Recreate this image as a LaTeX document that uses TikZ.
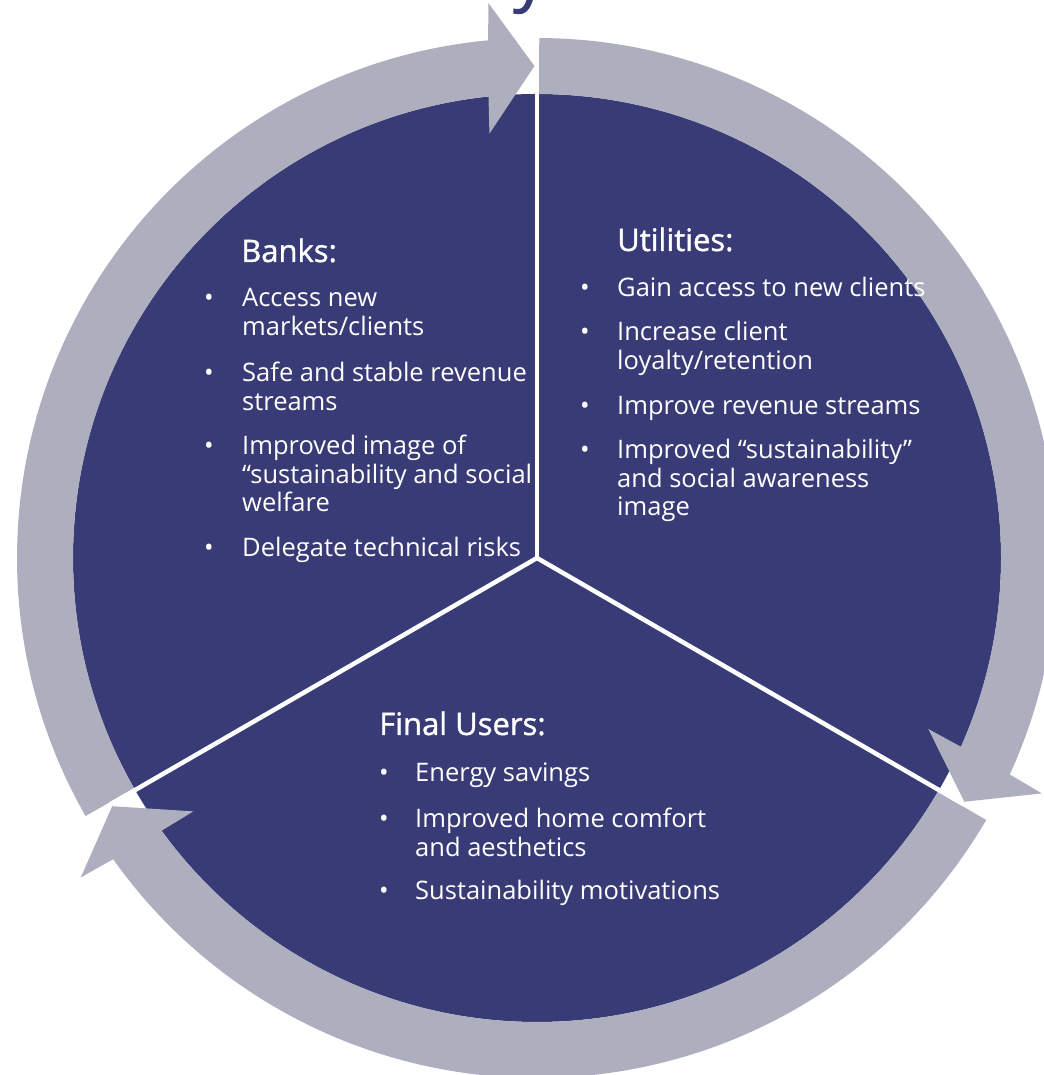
\documentclass[tikz,border=0pt]{standalone}
\usepackage{fontspec}
\setmainfont{Open Sans}
\newfontfamily\headfont[FakeBold=1.2]{Open Sans}
\usetikzlibrary{calc}
\definecolor{wheelblue}{RGB}{57,59,119}
\definecolor{ringgrey}{RGB}{173,174,190}

\begin{document}
\begin{tikzpicture}[x=1pt,y=1pt,
  heading/.style={anchor=base west, text=white, inner sep=0pt,
    font=\headfont\fontsize{31}{36}\selectfont},
  itemtext/.style={anchor=base west, text=white, align=left, inner sep=0pt,
    font=\fontsize{25.5}{28.5}\selectfont},
  bulletmark/.style={anchor=base, text=white, inner sep=0pt,
    font=\fontsize{25.5}{28.5}\selectfont},
  titletext/.style={text=wheelblue, inner sep=0pt,
    font=\headfont\fontsize{66}{70}\selectfont},
  divider/.style={white, line width=4.5pt},
  cyclearrow/.style={fill=ringgrey, draw=none}]

\useasboundingbox (0,0) rectangle (1043,1075);

% title line, mostly above the page
\node[titletext, anchor=base] (titley) at (530,1077) {y};
\node[titletext, anchor=base east] (titleleft) at (titley.base west) {Shared benefits b};
\node[titletext, anchor=base west] (titleright) at (titley.base east) { stakeholder};

% the wheel
\coordinate (C) at (537,517);
\fill[wheelblue] (C) circle[radius=464];

% three curved arrows running clockwise around the wheel
\foreach \s/\name in {210/left, 90/right, -30/bottom}{
  \pgfmathsetmacro\e{\s-120}
  \fill[cyclearrow]
    ($(C)+({\s-0.25}:520)$)
    arc[start angle={\s-0.25}, end angle={\e+5.4}, radius=520]
    -- ($(C)+({\e+5}:557)$)
    -- ($(C)+({\e+0.3}:492)$)
    -- ($(C)+({\e+6.4}:427)$)
    -- ($(C)+({\e+6.0}:464)$)
    arc[start angle={\e+6.0}, end angle={\s-0.25}, radius=464]
    -- cycle;
  \coordinate (end\name) at ($(C)+(\e:493)$);
}

% white dividers between the three sectors
\draw[divider] (C) -- (endleft);
\draw[divider] (C) -- (endright);
\draw[divider] (C) -- (endbottom);
\fill[white] (C) circle[radius=2.25];

% Banks (multi-line items are placed by their last baseline)
\node[heading] (banks) at (241,813) {Banks:};
\node[bulletmark] (b1) at (209,768) {•};
\node[itemtext] (bt1) at (242,739.5) {Access new\\markets/clients};
\node[bulletmark] (b2) at (209,693) {•};
\node[itemtext] (bt2) at (242,664.5) {Safe and stable revenue\\streams};
\node[bulletmark] (b3) at (209,620) {•};
\node[itemtext] (bt3) at (242,563) {Improved image of\\“sustainability and social\\welfare};
\node[bulletmark] (b4) at (209,518) {•};
\node[itemtext] (bt4) at (242,518) {Delegate technical risks};

% Utilities
\node[heading] (utilities) at (617,824) {Utilities:};
\node[bulletmark] (u1) at (585,778) {•};
\node[itemtext] (ut1) at (617,778) {Gain access to new clients};
\node[bulletmark] (u2) at (585,734) {•};
\node[itemtext] (ut2) at (617,705.5) {Increase client\\loyalty/retention};
\node[bulletmark] (u3) at (585,660) {•};
\node[itemtext] (ut3) at (617,660) {Improve revenue streams};
\node[bulletmark] (u4) at (585,616) {•};
\node[itemtext] (ut4) at (617,559) {Improved “sustainability”\\and social awareness\\image};

% Final Users
\node[heading] (users) at (379,340) {Final Users:};
\node[bulletmark] (f1) at (384,293) {•};
\node[itemtext] (ft1) at (415,293) {Energy savings};
\node[bulletmark] (f2) at (384,247) {•};
\node[itemtext] (ft2) at (415,218.5) {Improved home comfort\\and aesthetics};
\node[bulletmark] (f3) at (384,175) {•};
\node[itemtext] (ft3) at (415,175) {Sustainability motivations};

\end{tikzpicture}
\end{document}
